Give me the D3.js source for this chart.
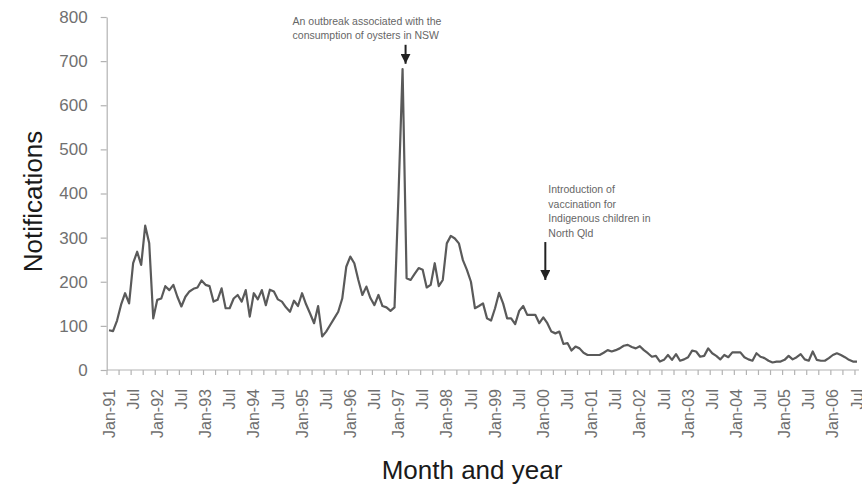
<!DOCTYPE html>
<html>
<head>
<meta charset="utf-8">
<script src="https://cdn.jsdelivr.net/npm/d3@7"></script>
<style>
  html, body { margin: 0; padding: 0; background: #fff; }
  svg { display: block; font-family: "Liberation Sans", Arial, Helvetica, sans-serif; }
</style>
</head>
<body>
<svg id="chart" width="862" height="485"></svg>
<script>
// Monthly notifications, Jan-91 .. Jul-06, one row per year
const notifications = [
  90, 88, 112, 148, 174, 151, 242, 268, 238, 327, 287, 117,   // 1991
  159, 162, 190, 181, 193, 166, 144, 166, 178, 184, 187, 203, // 1992
  193, 190, 155, 159, 185, 140, 140, 162, 170, 155, 181, 121, // 1993
  174, 160, 181, 147, 182, 178, 160, 155, 142, 132, 157, 145, // 1994
  174, 149, 128, 106, 145, 76, 87, 102, 117, 132, 162, 234,   // 1995
  257, 242, 204, 170, 189, 163, 147, 170, 145, 142, 134, 142, // 1996
  400, 682, 208, 204, 218, 231, 227, 187, 193, 242, 190, 204, // 1997
  287, 304, 298, 287, 249, 227, 200, 140, 145, 151, 117, 112, // 1998
  140, 175, 151, 117, 117, 104, 134, 145, 125, 125, 125, 106, // 1999
  119, 106, 87, 83, 87, 59, 61, 44, 53, 49, 39, 34,           // 2000
  34, 34, 34, 39, 45, 42, 45, 49, 55, 57, 52, 49,             // 2001
  54, 45, 38, 30, 32, 19, 23, 34, 23, 36, 21, 24,             // 2002
  29, 44, 42, 30, 32, 49, 38, 32, 24, 34, 29, 40,             // 2003
  40, 40, 29, 24, 21, 38, 30, 27, 21, 17, 19, 19,             // 2004
  23, 32, 24, 29, 36, 24, 21, 42, 23, 21, 21, 27,             // 2005
  34, 38, 34, 29, 23, 19, 19                                  // 2006
];

const xTickLabels = [
  "Jan-91", "Jul", "Jan-92", "Jul", "Jan-93", "Jul", "Jan-94", "Jul",
  "Jan-95", "Jul", "Jan-96", "Jul", "Jan-97", "Jul", "Jan-98", "Jul",
  "Jan-99", "Jul", "Jan-00", "Jul", "Jan-01", "Jul", "Jan-02", "Jul",
  "Jan-03", "Jul", "Jan-04", "Jul", "Jan-05", "Jul", "Jan-06", "Jul"
];
const yTicks = [0, 100, 200, 300, 400, 500, 600, 700, 800];

const outbreakNote = ["An outbreak associated with the", "consumption of oysters in NSW"];
const vaccineNote = ["Introduction of", "vaccination for", "Indigenous children in", "North Qld"];
// month index the arrows point at, and arrow start / tip values
const outbreakArrow = { month: 73, from: 737, to: 694 };
const vaccineArrow = { month: 108, from: 290, to: 204 };

const svg = d3.select("#chart");
const margin = { left: 107, right: 3, top: 17, bottom: 115 };
const width = 862, height = 485;

const months = d3.range(notifications.length);
const x = d3.scaleBand()
    .domain(months)
    .range([margin.left, width - margin.right])
    .paddingInner(0).paddingOuter(0);
const bw = x.bandwidth();
const y = d3.scaleLinear().domain([0, 800]).range([height - margin.bottom, margin.top]);

const axisColor = "#b3b3b3";
const labelColor = "#707070";

// y axis
const yAxis = svg.append("g")
    .attr("transform", `translate(${margin.left - 0.3},0)`)
    .call(d3.axisLeft(y).tickValues(yTicks).tickSize(6).tickSizeOuter(0).tickPadding(13));
yAxis.select(".domain").attr("stroke", axisColor).attr("stroke-width", 1.2);
yAxis.selectAll(".tick line").attr("stroke", axisColor).attr("stroke-width", 1.2);
yAxis.selectAll(".tick text")
    .attr("fill", labelColor)
    .style("font-size", "17px")
    .style("font-family", "'Liberation Sans', Arial, sans-serif");

// x axis
const xAxis = svg.append("g");
xAxis.append("line")
    .attr("x1", x.range()[0]).attr("x2", x.range()[1])
    .attr("y1", y(0)).attr("y2", y(0))
    .attr("stroke", axisColor).attr("stroke-width", 1.2);

xAxis.selectAll(".xtick")
    .data(months.filter(i => i % 3 === 0))
    .join("line")
    .attr("class", "xtick")
    .attr("x1", i => x(i)).attr("x2", i => x(i))
    .attr("y1", y(0)).attr("y2", y(0) + 5)
    .attr("stroke", axisColor).attr("stroke-width", 1.2);

xAxis.selectAll(".xlabel")
    .data(xTickLabels)
    .join("text")
    .attr("class", "xlabel")
    .attr("transform", (d, k) => `translate(${x(k * 6) + bw / 2},${y(0) + 19}) rotate(-90)`)
    .attr("text-anchor", "end")
    .attr("dy", "0.35em")
    .attr("fill", labelColor)
    .style("font-size", "16px")
    .text(d => d);

// line
const line = d3.line()
    .x((d, i) => x(i) + bw / 2)
    .y(d => y(d));

svg.append("path")
    .datum(notifications)
    .attr("fill", "none")
    .attr("stroke", "#5a5a5a")
    .attr("stroke-width", 2.2)
    .attr("stroke-linejoin", "round")
    .attr("d", line);

// axis titles
svg.append("text")
    .attr("transform", `translate(42,${(y(0) + y(800)) / 2 + 8}) rotate(-90)`)
    .attr("text-anchor", "middle")
    .attr("fill", "#1a1a1a")
    .style("font-size", "26px")
    .text("Notifications");

svg.append("text")
    .attr("x", 472)
    .attr("y", 479)
    .attr("text-anchor", "middle")
    .attr("fill", "#1a1a1a")
    .style("font-size", "26px")
    .text("Month and year");

// annotations
svg.append("defs").append("marker")
    .attr("id", "head")
    .attr("viewBox", "0 0 10 10")
    .attr("refX", 10).attr("refY", 5)
    .attr("markerWidth", 5).attr("markerHeight", 5)
    .attr("orient", "auto")
    .append("path")
    .attr("d", "M0,0 L10,5 L0,10 Z")
    .attr("fill", "#222");

function arrow(a, dx) {
  const ax = x(a.month) + bw / 2 + dx;
  svg.append("line")
      .attr("x1", ax).attr("x2", ax)
      .attr("y1", y(a.from)).attr("y2", y(a.to))
      .attr("stroke", "#222")
      .attr("stroke-width", 2)
      .attr("marker-end", "url(#head)");
  return ax;
}

const ax1 = arrow(outbreakArrow, 3);
svg.append("g").selectAll("text")
    .data(outbreakNote)
    .join("text")
    .attr("x", ax1 - 113)
    .attr("y", (d, i) => 25 + i * 14)
    .attr("fill", "#666")
    .style("font-size", "10.5px")
    .text(d => d);

const ax2 = arrow(vaccineArrow, 2);
svg.append("g").selectAll("text")
    .data(vaccineNote)
    .join("text")
    .attr("x", ax2 + 3)
    .attr("y", (d, i) => 193 + i * 14.6)
    .attr("fill", "#666")
    .style("font-size", "10.5px")
    .text(d => d);
</script>
</body>
</html>
